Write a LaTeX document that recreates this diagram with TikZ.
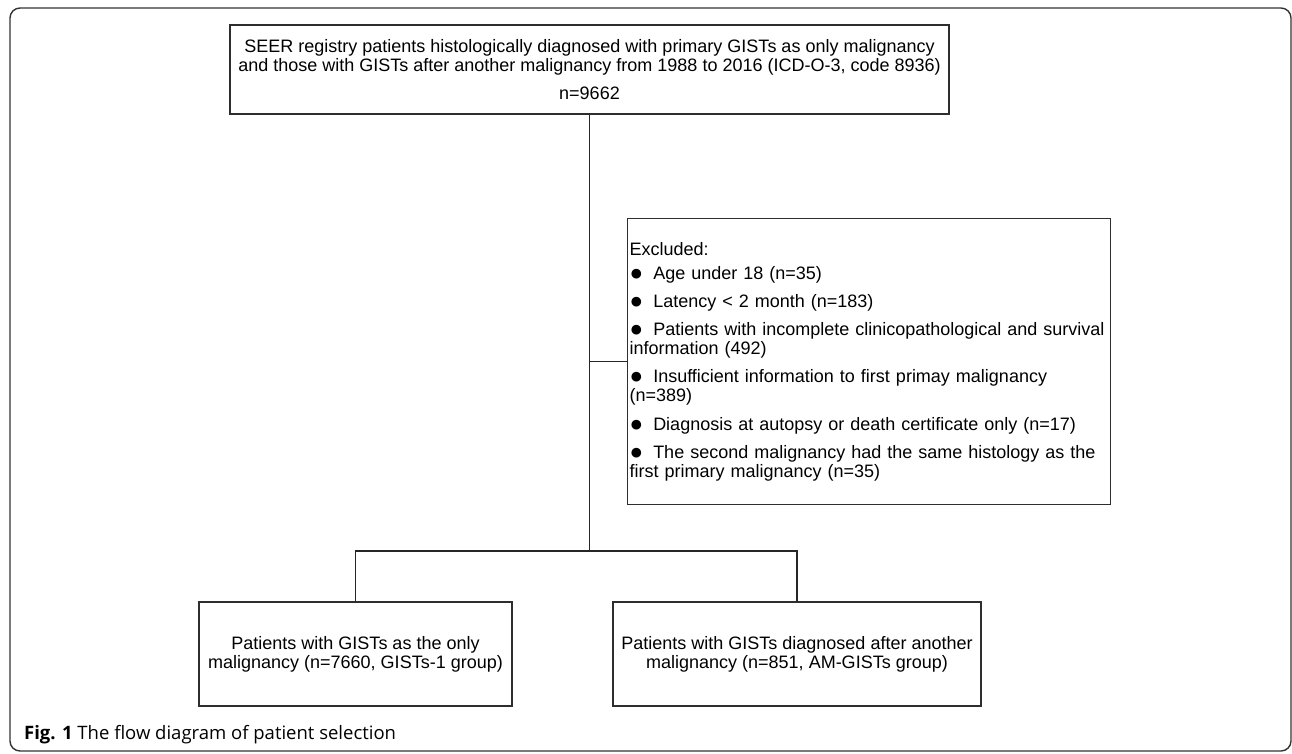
\documentclass[tikz,border=0pt]{standalone}
\usepackage{fontspec}
\setmainfont{Liberation Sans}
\newfontfamily\capfont{Open Sans}
\begin{document}
\begin{tikzpicture}[x=1pt,y=-1pt,
  box/.style={draw=black!82,line width=1.3pt,inner sep=0pt,font=\fontsize{18pt}{18.8pt}\selectfont},
  link/.style={draw=black!85,line width=1.2pt},
  frame/.style={draw=black!80,line width=1.4pt,rounded corners=10pt}]
\newcommand{\bul}{{\fontsize{22.5pt}{18pt}\selectfont\raisebox{-1pt}{●}}\hspace{10pt}}
\useasboundingbox (0,0) rectangle (1292,753);
\draw[frame] (10,8) rectangle (1291,751);
\node[box,minimum width=719pt,minimum height=89pt,align=center] (top) at (589.5,69.5)
  {SEER registry patients histologically diagnosed with primary GISTs as only malignancy\\[-0.3pt]
   and those with GISTs after another malignancy from 1988 to 2016 (ICD-O-3, code 8936)\\[9pt]
   n=9662};
\node[box,anchor=north west,minimum width=483pt,minimum height=286pt,align=left,
      text width=479pt,inner xsep=2pt] (excl) at (627,218)
  {Excluded:\\[5pt]
   \bul Age under 18 (n=35)\\[9.5pt]
   \bul Latency < 2 month (n=183)\\[9.5pt]
   \bul Patients with incomplete clinicopathological and survival\\
   information (492)\\[9.5pt]
   \bul Insufficient information to first primay malignancy\\
   (n=389)\\[9.5pt]
   \bul Diagnosis at autopsy or death certificate only (n=17)\\[9.5pt]
   \bul The second malignancy had the same histology as the\\
   first primary malignancy (n=35)};
\node[box,minimum width=313pt,minimum height=104pt,align=center] (bl) at (355.5,654)
  {Patients with GISTs as the only\\malignancy (n=7660, GISTs-1 group)};
\node[box,minimum width=368pt,minimum height=104pt,align=center] (br) at (797,654)
  {Patients with GISTs diagnosed after another\\malignancy (n=851, AM-GISTs group)};
\coordinate (split) at (589.5,551);
\draw[link] (top.south) -- (split);
\draw[link] (top.south |- excl.west) -- (excl.west);
\draw[link] (bl.north) |- (split) -| (br.north);
\node[anchor=base west,inner sep=0pt,font=\capfont\fontsize{18.5pt}{22pt}\selectfont] (cap) at (24,739.5)
  {\textbf{Fig. 1} The flow diagram of patient selection};
\end{tikzpicture}
\end{document}
